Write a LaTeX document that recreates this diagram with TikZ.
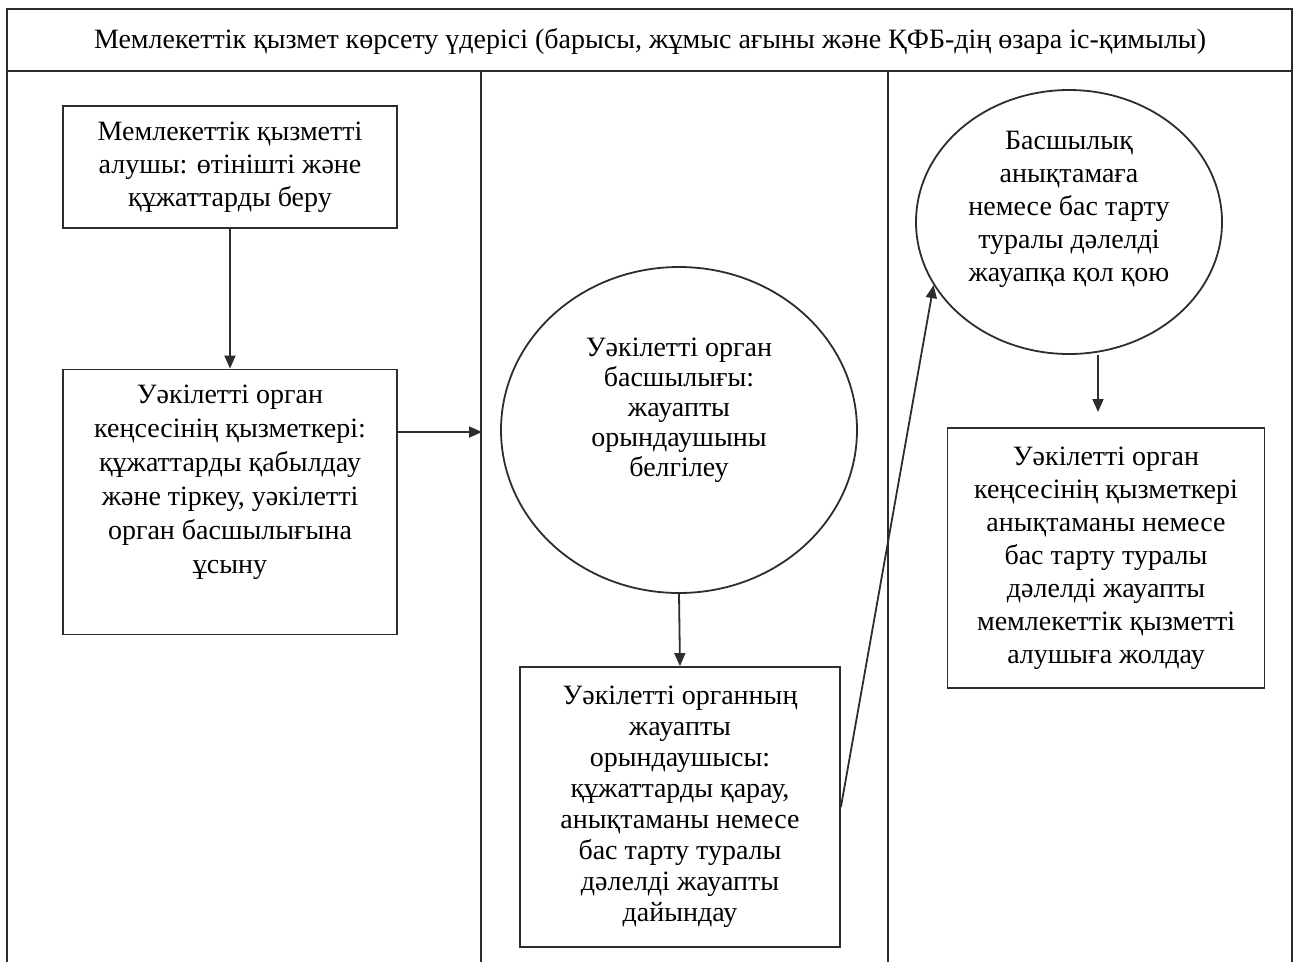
\documentclass[tikz,border=0pt]{standalone}
\usepackage{fontspec}
\setmainfont{Liberation Serif}
\usetikzlibrary{arrows.meta,shapes.geometric}
\definecolor{LineClr}{RGB}{45,45,45}

\begin{document}
\begin{tikzpicture}[x=1pt,y=-1pt,
  frame/.style={draw=LineClr,line width=2pt},
  txt/.style={font=\fontsize{28}{33}\selectfont,align=center,inner sep=0pt},
  stepbox/.style={draw=LineClr,line width=1.8pt,rectangle,inner sep=0pt,txt},
  oval/.style={draw=LineClr,line width=1.8pt,ellipse,inner sep=0pt},
  arr/.style={draw=LineClr,line width=1.8pt,-{Triangle[length=13pt,width=11pt]}}]
\useasboundingbox (0,0) rectangle (1298,962);

% lanes
\draw[frame] (7,962) -- (7,9) -- (1292,9) -- (1292,962);
\draw[frame] (7,71) -- (1292,71);
\draw[frame] (481,71) -- (481,962);
\draw[frame] (888,71) -- (888,962);
\node[txt] (title) at (650,41) {Мемлекеттік қызмет көрсету үдерісі (барысы, жұмыс ағыны және ҚФБ-дің өзара іс-қимылы)};

% first lane
\node[stepbox,minimum width=334pt,minimum height=122pt] (apply) at (230,167)
  {Мемлекеттік қызметті\\алушы: өтінішті және\\құжаттарды беру};
\node[stepbox,minimum width=334pt,minimum height=265pt] (reg) at (230,502) {};
\node[txt,font=\fontsize{28}{34}\selectfont] (regtxt) at (230,482)
  {Уәкілетті орган\\кеңсесінің қызметкері:\\құжаттарды қабылдау\\және тіркеу, уәкілетті\\орган басшылығына\\ұсыну};

% second lane
\node[oval,minimum width=356pt,minimum height=326pt] (head) at (679,430) {};
\node[txt,font=\fontsize{28}{30}\selectfont] (headtxt) at (679,410)
  {Уәкілетті орган\\басшылығы:\\жауапты\\орындаушыны\\белгілеу};
\node[stepbox,minimum width=320pt,minimum height=280pt,font=\fontsize{28}{31}\selectfont] (exec) at (680,807)
  {Уәкілетті органның\\жауапты\\орындаушысы:\\құжаттарды қарау,\\анықтаманы немесе\\бас тарту туралы\\дәлелді жауапты\\дайындау};

% third lane
\node[oval,minimum width=306pt,minimum height=264pt] (sign) at (1069,222) {};
\node[txt] (signtxt) at (1069,209)
  {Басшылық\\анықтамаға\\немесе бас тарту\\туралы дәлелді\\жауапқа қол қою};
\node[stepbox,minimum width=317pt,minimum height=260pt] (send) at (1106,558)
  {Уәкілетті орган\\кеңсесінің қызметкері\\анықтаманы немесе\\бас тарту туралы\\дәлелді жауапты\\мемлекеттік қызметті\\алушыға жолдау};

\coordinate (headin) at (482,432);
\coordinate (sendin) at (1098,412);

\draw[arr] (apply.south) -- (reg.north);
\draw[arr] (reg.east |- headin) -- (headin);
\draw[arr] (head.south) -- (exec.north);
\draw[arr] (exec.east) -- (sign.205);
\draw[arr] (sign.south -| sendin) -- (sendin);

\end{tikzpicture}
\end{document}
